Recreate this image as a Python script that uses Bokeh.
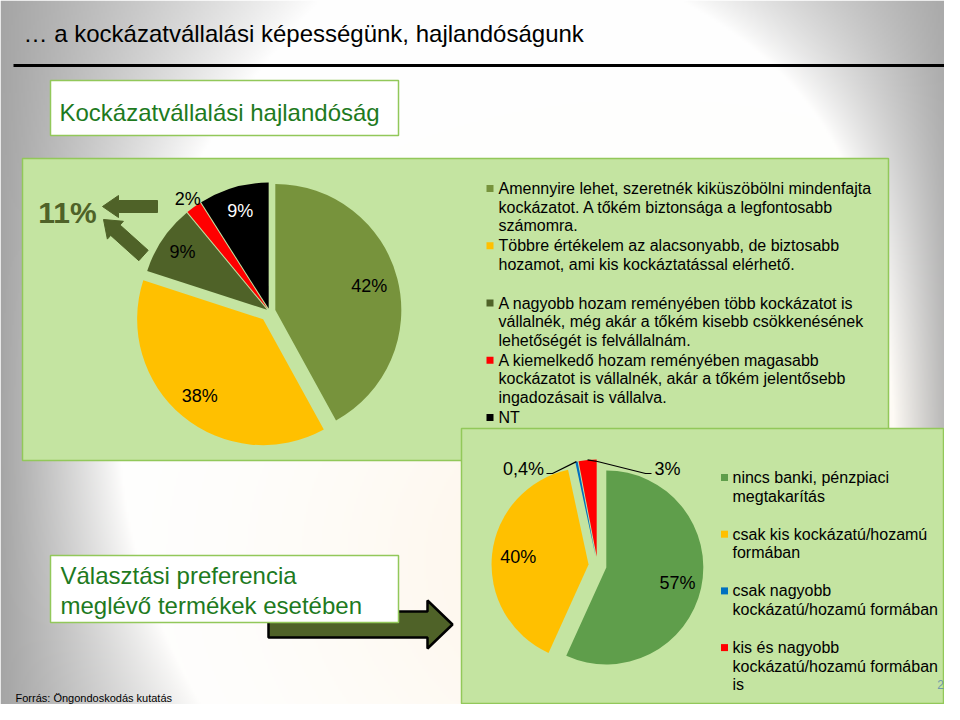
import numpy as np
from bokeh.plotting import figure
from bokeh.models import Range1d
from bokeh.core.properties import value
from bokeh.embed import file_html
from bokeh.resources import INLINE

# ---------------- data ----------------
slide_title = "… a kockázatvállalási képességünk, hajlandóságunk"
risk_title = "Kockázatvállalási hajlandóság"
pref_title = ["Választási preferencia", "meglévő termékek esetében"]
source_text = "Forrás: Öngondoskodás kutatás"
slide_number = "2"

risk_categories = [
    "Amennyire lehet, szeretnék kiküszöbölni mindenfajta\nkockázatot. A tőkém biztonsága a legfontosabb\nszámomra.",
    "Többre értékelem az alacsonyabb, de biztosabb\nhozamot, ami kis kockáztatással elérhető.",
    "A nagyobb hozam reményében több kockázatot is\nvállalnék, még akár a tőkém kisebb csökkenésének\nlehetőségét is felvállalnám.",
    "A kiemelkedő hozam reményében magasabb\nkockázatot is vállalnék, akár a tőkém jelentősebb\ningadozásait is vállalva.",
    "NT",
]
risk_values = [42, 38, 9, 2, 9]
risk_labels = ["42%", "38%", "9%", "2%", "9%"]
risk_combined_label = "11%"

pref_categories = [
    "nincs banki, pénzpiaci\nmegtakarítás",
    "csak kis kockázatú/hozamú\nformában",
    "csak nagyobb\nkockázatú/hozamú formában",
    "kis és nagyobb\nkockázatú/hozamú formában\nis",
]
pref_values = [57, 40, 0.4, 3]
pref_labels = ["57%", "40%", "0,4%", "3%"]

# ---------------- styles ----------------
risk_colors = ["#77933c", "#ffc000", "#4f6228", "#ff0000", "#000000"]
risk_label_colors = ["black", "black", "black", "black", "white"]
risk_explode = [6, 10, 3, 3, 3]
risk_label_r = [0.77, 0.79, 0.81, 1.08, 0.81]
pref_colors = ["#5f9e4b", "#ffc000", "#0070c0", "#ff0000"]
pref_explode = [9, 9, 9, 9]
pref_label_r = [0.75, 0.73, None, None]

FONT = value("Liberation Sans")
H_PAGE = 720
OLIVE = "#4f6228"
PANEL_FILL = "#c4e4a1"
PANEL_LINE = "#92c85a"
DARK_GREEN = "#1e7a1e"


def Y(y):
    """reference pixel row -> data y (data y grows upward)"""
    return H_PAGE - np.asarray(y, dtype=float)


p = figure(width=944, height=704, x_range=Range1d(0, 944), y_range=Range1d(16, 720),
           output_backend="svg", toolbar_location=None, min_border=0)
p.axis.visible = False
p.grid.visible = False
p.outline_line_color = None
p.background_fill_color = "white"
p.border_fill_color = "white"

# ---------------- background gradient ----------------
W, Hh = 472, 352
xs = (np.arange(W) + 0.5) * 2
ys = 704 - (np.arange(Hh) + 0.5) * 2  # row 0 = bottom
XX, YY = np.meshgrid(xs, ys)
wL = 120 + 200 * ((YY - 430) / 430) ** 2
aL = np.clip(1 - XX / wL, 0, 1)
wR = 60 + 220 * np.exp(-YY / 120)
aR = np.clip(1 - (960 - XX) / wR, 0, 1)
a = np.maximum(aL, aR) ** 0.9
c = 0.7 * np.exp(-(((XX - 650) / 320) ** 2 + ((YY - 560) / 260) ** 2))
base = np.stack([255 * (1 - c) + 253 * c, 255 * (1 - c) + 241 * c, 255 * (1 - c) + 222 * c], -1)
col = base * (1 - a[..., None]) + 165 * a[..., None]
img = np.empty((Hh, W), dtype=np.uint32)
view = img.view(dtype=np.uint8).reshape((Hh, W, 4))
view[..., 0] = col[..., 0].astype(np.uint8)
view[..., 1] = col[..., 1].astype(np.uint8)
view[..., 2] = col[..., 2].astype(np.uint8)
view[..., 3] = 255
p.image_rgba(image=[img], x=0, y=16, dw=944, dh=704)

# ---------------- header ----------------
p.text(x=[23], y=Y([33]), text=[slide_title], text_font=FONT, text_font_size="24px",
       text_color="black", text_align="left", text_baseline="alphabetic")
p.line(x=[13, 948], y=Y([65, 65]), line_color="black", line_width=3)
p.quad(left=[50], right=[398], top=Y([80]), bottom=Y([135]), fill_color="white",
       line_color=PANEL_LINE, line_width=1.5)
p.text(x=[59], y=Y([112]), text=[risk_title], text_font=FONT, text_font_size="24px",
       text_color=DARK_GREEN, text_align="left", text_baseline="middle")

# ---------------- top panel ----------------
p.quad(left=[22], right=[888], top=Y([158]), bottom=Y([460]), fill_color=PANEL_FILL,
       line_color=PANEL_LINE, line_width=1.5)


def pie(values, cx, cy, r, explode):
    tot = float(sum(values))
    out = []
    th = 0.0
    for v, e in zip(values, explode):
        t0 = th
        t1 = th + v / tot * 2 * np.pi
        tm = (t0 + t1) / 2
        ox = cx + e * np.sin(tm)
        oy = cy - e * np.cos(tm)  # pixel rows
        out.append((t0, t1, tm, ox, oy))
        th = t1
    return out


C1x, C1y, R1 = 269, 311, 126
w1 = pie(risk_values, C1x, C1y, R1, risk_explode)
p.wedge(x=[w[3] for w in w1], y=Y([w[4] for w in w1]), radius=R1,
        start_angle=[np.pi / 2 - w[0] for w in w1], end_angle=[np.pi / 2 - w[1] for w in w1],
        direction="clock", fill_color=risk_colors, line_color=None)
lx = [w[3] + k * R1 * np.sin(w[2]) for w, k in zip(w1, risk_label_r)]
ly = [w[4] - k * R1 * np.cos(w[2]) for w, k in zip(w1, risk_label_r)]
p.text(x=lx, y=Y(ly), text=risk_labels, text_color=risk_label_colors, text_font=FONT,
       text_font_size="18px", text_align="center", text_baseline="middle")


def arrow_poly(x0, y0, x1, y1, s, h, hl):
    dx, dy = x1 - x0, y1 - y0
    L = np.hypot(dx, dy)
    ux, uy = dx / L, dy / L
    nx, ny = -uy, ux
    bx, by = x1 - ux * hl, y1 - uy * hl
    pts = [(x0 + nx * s, y0 + ny * s), (bx + nx * s, by + ny * s), (bx + nx * h, by + ny * h),
           (x1, y1), (bx - nx * h, by - ny * h), (bx - nx * s, by - ny * s), (x0 - nx * s, y0 - ny * s)]
    return [q[0] for q in pts], list(Y([q[1] for q in pts]))


ax1, ay1 = arrow_poly(157, 206, 102, 206, 6, 11, 16)
ax2, ay2 = arrow_poly(143, 255, 103, 219, 7, 12, 16)
p.patches(xs=[ax1, ax2], ys=[ay1, ay2], fill_color=OLIVE, line_color=OLIVE, line_width=1)
p.text(x=[67], y=Y([212]), text=[risk_combined_label], text_font=FONT, text_font_size="30px",
       text_font_style="bold", text_color=OLIVE, text_align="center", text_baseline="middle")

# legend of top pie
leg1_x, leg1_y0, leg1_dy, line_h = 489.5, 188, 57.25, 18.5
for i, (lab, colr) in enumerate(zip(risk_categories, risk_colors)):
    yy = leg1_y0 + i * leg1_dy
    p.rect(x=[leg1_x], y=Y([yy]), width=7, height=7, fill_color=colr, line_color=None)
    lines = lab.split("\n")
    p.text(x=[498] * len(lines), y=Y([yy + j * line_h for j in range(len(lines))]), text=lines,
           text_font=FONT, text_font_size="16px", text_color="black",
           text_align="left", text_baseline="middle")

# ---------------- bottom panel ----------------
p.quad(left=[461], right=[943], top=Y([428]), bottom=Y([703]), fill_color=PANEL_FILL,
       line_color=PANEL_LINE, line_width=1.5)
C2x, C2y, R2 = 597, 565, 97
w2 = pie(pref_values, C2x, C2y, R2, pref_explode)
p.wedge(x=[w[3] for w in w2], y=Y([w[4] for w in w2]), radius=R2,
        start_angle=[np.pi / 2 - w[0] for w in w2], end_angle=[np.pi / 2 - w[1] for w in w2],
        direction="clock", fill_color=pref_colors, line_color=None)
in_idx = [i for i, k in enumerate(pref_label_r) if k is not None]
p.text(x=[w2[i][3] + pref_label_r[i] * R2 * np.sin(w2[i][2]) for i in in_idx],
       y=Y([w2[i][4] - pref_label_r[i] * R2 * np.cos(w2[i][2]) for i in in_idx]),
       text=[pref_labels[i] for i in in_idx], text_font=FONT, text_font_size="18px",
       text_color="black", text_align="center", text_baseline="middle")
# outside labels with leader lines
ob = (w2[2][3] + R2 * np.sin(w2[2][2]), w2[2][4] - R2 * np.cos(w2[2][2]))
orr = (w2[3][3] + R2 * np.sin(w2[3][2]), w2[3][4] - R2 * np.cos(w2[3][2]))
p.multi_line(xs=[[ob[0], 552, 546], [orr[0], 597, 645, 651]],
             ys=[list(Y([ob[1], 473, 473])), list(Y([orr[1], 461, 473, 473]))],
             line_color="black", line_width=1.2)
p.text(x=[523, 667], y=Y([468, 468]), text=[pref_labels[2], pref_labels[3]], text_font=FONT,
       text_font_size="18px", text_color="black", text_align="center", text_baseline="middle")

leg2_x, leg2_y0, leg2_dy = 724, 477, 56.7
for i, (lab, colr) in enumerate(zip(pref_categories, pref_colors)):
    yy = leg2_y0 + i * leg2_dy
    p.rect(x=[leg2_x], y=Y([yy]), width=7, height=7, fill_color=colr, line_color=None)
    lines = lab.split("\n")
    p.text(x=[732] * len(lines), y=Y([yy + j * line_h for j in range(len(lines))]), text=lines,
           text_font=FONT, text_font_size="16px", text_color="black",
           text_align="left", text_baseline="middle")

# slide number, tucked against the panel's right edge
p.text(x=[943.5], y=Y([684]), text=[slide_number], text_font=FONT, text_font_size="12px",
       text_color="#6f98aa", text_align="right", text_baseline="middle")

# ---------------- bottom-left box + arrow ----------------
bx, by = arrow_poly(268, 624, 452, 624, 13, 24, 25)
p.patch(x=bx, y=by, fill_color=OLIVE, line_color="black", line_width=2.5)
p.quad(left=[50], right=[398], top=Y([555]), bottom=Y([622]), fill_color="white",
       line_color=PANEL_LINE, line_width=1.5)
p.text(x=[60, 60], y=Y([575, 605]), text=pref_title, text_font=FONT, text_font_size="24px",
       text_color=DARK_GREEN, text_align="left", text_baseline="middle")
p.text(x=[15], y=Y([697]), text=[source_text], text_font=FONT, text_font_size="11px",
       text_color="black", text_align="left", text_baseline="middle")

open("out.html", "w").write(file_html(p, INLINE))
